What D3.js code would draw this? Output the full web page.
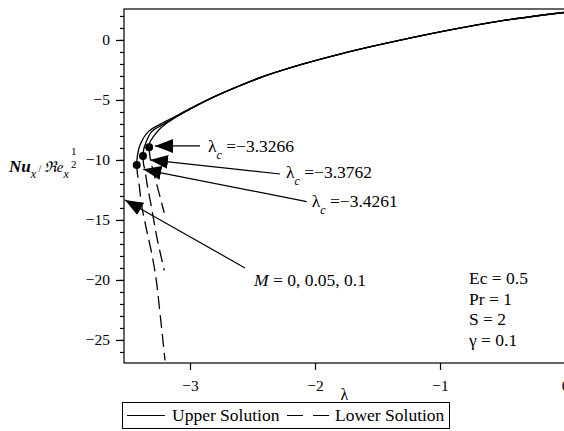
<!DOCTYPE html>
<meta charset="utf-8">
<style>
body { margin: 0; background: #fff; }
svg text { font-family: "Liberation Serif", "Times New Roman", serif; }
.curve { fill: none; stroke: #000; stroke-width: 1.3; }
.lower { stroke-dasharray: 13,6; }
</style>
<body>
<script src="https://cdn.jsdelivr.net/npm/d3@7"></script>
<script>

// x = lambda, y = Nu_x / Re_x^(1/2)
var xTicks = [-3, -2, -1, 0];
var yTicks = [-25, -20, -15, -10, -5, 0];

// shared tail of the upper branches
var upperTail = [[-2.8, -4.7], [-2.6, -3.8], [-2.4, -3.0], [-2.1, -2.02], [-1.8, -1.18],
                 [-1.5, -0.44], [-1.0, 0.67], [-0.5, 1.61], [0, 2.3]];

// upper solution, one per critical lambda
var upper1 = [[-3.3266, -8.94], [-3.32, -8.5], [-3.293, -8.06], [-3.25, -7.5],
              [-3.2, -7.05], [-3.1, -6.36], [-3.0, -5.76]];
var upper2 = [[-3.3762, -9.67], [-3.37, -9.1], [-3.36, -8.75], [-3.307, -7.64],
              [-3.2, -6.95], [-3.1, -6.32], [-3.0, -5.74]];
var upper3 = [[-3.4261, -10.42], [-3.42, -9.6], [-3.40, -8.75], [-3.333, -7.64],
              [-3.22, -6.92], [-3.1, -6.28], [-3.0, -5.72]];

// lower solution
var lower1 = [[-3.3266, -8.94], [-3.322, -9.6], [-3.31, -10.3], [-3.294, -10.9],
              [-3.262, -12.2], [-3.206, -14.4]];
var lower2 = [[-3.3762, -9.67], [-3.372, -10.3], [-3.36, -10.9], [-3.34, -12.2],
              [-3.314, -13.6], [-3.266, -16.4], [-3.206, -19.2]];
var lower3 = [[-3.4261, -10.42], [-3.42, -11.2], [-3.405, -12.2], [-3.39, -13.6],
              [-3.35, -15.7], [-3.306, -17.8], [-3.27, -20.0], [-3.245, -22.3],
              [-3.222, -24.5], [-3.2, -26.7]];

// critical points
var critLambda = [-3.3266, -3.3762, -3.4261];
var critNu = [-8.94, -9.67, -10.42];
var critLabels = ["\u22123.3266", "\u22123.3762", "\u22123.4261"];

// arrow tips / tails and label anchors (data units)
var arrowTips = [[-3.28, -8.83], [-3.32, -10.0], [-3.374, -10.78], [-3.52, -13.33]];
var arrowTails = [[-2.92, -8.83], [-2.28, -11.17], [-2.066, -13.47], [-2.56, -19.0]];
var labelAt = [[-2.856, -9.33], [-2.232, -11.5], [-2.026, -13.89], [-2.488, -20.47]];

var params = ["Ec = 0.5", "Pr = 1", "S = 2", "\u03b3 = 0.1"];

var width = 564, height = 431;
var x = d3.scaleLinear().domain([-3.528, 0]).range([124, 565]);
var y = d3.scaleLinear().domain([-26.92, 2.58]).range([363, 9]);

var svg = d3.select("body").append("svg")
    .attr("width", width)
    .attr("height", height);

svg.append("defs").append("marker")
    .attr("id", "head")
    .attr("markerUnits", "userSpaceOnUse")
    .attr("viewBox", "0 -8 18 16")
    .attr("refX", 18).attr("refY", 0)
    .attr("markerWidth", 18).attr("markerHeight", 16)
    .attr("orient", "auto")
    .append("path").attr("d", "M0,-7L18,0L0,7Z").attr("fill", "#000");

// frame
svg.append("rect")
    .attr("x", x(-3.528)).attr("y", y(2.58))
    .attr("width", x(0) - x(-3.528) + 2).attr("height", y(-26.92) - y(2.58))
    .attr("fill", "none").attr("stroke", "#000").attr("stroke-width", 1.2);

function fmt(d) { return d < 0 ? "\u2212" + Math.abs(d) : d; }

// y axis with minor ticks
svg.append("g")
    .attr("transform", "translate(" + x(-3.528) + ",0)")
    .call(d3.axisLeft(y).tickValues(d3.range(-26, 3)).tickSize(4).tickFormat(""))
    .call(function (g) { g.select(".domain").remove(); });
svg.append("g")
    .attr("transform", "translate(" + x(-3.528) + ",0)")
    .call(d3.axisLeft(y).tickValues(yTicks).tickSize(8).tickPadding(6).tickFormat(fmt))
    .call(function (g) { g.select(".domain").remove(); });

// x axis
svg.append("g")
    .attr("transform", "translate(0," + y(-26.92) + ")")
    .call(d3.axisBottom(x).tickValues(xTicks).tickSize(7).tickPadding(10).tickFormat(fmt))
    .call(function (g) { g.select(".domain").remove(); });

svg.selectAll(".tick line").attr("stroke-width", 1.2);
svg.selectAll(".tick text")
    .attr("font-family", "Liberation Serif")
    .attr("font-size", "15.5px")
    .attr("fill", "#000");

// curves
var line = d3.line()
    .x(function (d) { return x(d[0]); })
    .y(function (d) { return y(d[1]); })
    .curve(d3.curveCatmullRom.alpha(0.5));

[upper1, upper2, upper3].forEach(function (u) {
    svg.append("path").attr("class", "curve").attr("d", line(u.concat(upperTail)));
});
[lower1, lower2, lower3].forEach(function (l) {
    svg.append("path").attr("class", "curve lower").attr("d", line(l));
});

svg.selectAll(".crit")
    .data(critLambda)
    .enter().append("circle")
    .attr("cx", function (d) { return x(d); })
    .attr("cy", function (d, i) { return y(critNu[i]); })
    .attr("r", 4)
    .attr("fill", "#000");

// arrows
arrowTips.forEach(function (t, i) {
    svg.append("line")
        .attr("x1", x(arrowTails[i][0])).attr("y1", y(arrowTails[i][1]))
        .attr("x2", x(t[0])).attr("y2", y(t[1]))
        .attr("stroke", "#000").attr("stroke-width", 1.2)
        .attr("marker-end", "url(#head)");
});

critLabels.forEach(function (s, i) {
    var t = svg.append("text")
        .attr("x", x(labelAt[i][0])).attr("y", y(labelAt[i][1]))
        .attr("font-size", "17.5px");
    t.append("tspan").text("\u03bb");
    t.append("tspan").attr("dy", 7).attr("font-size", "12px")
        .attr("font-style", "italic").text("c");
    t.append("tspan").attr("dy", -7).text(" =" + s);
});

var m = svg.append("text")
    .attr("x", x(labelAt[3][0])).attr("y", y(labelAt[3][1]))
    .attr("font-size", "17.5px");
m.append("tspan").attr("font-style", "italic").text("M");
m.append("tspan").text(" = 0, 0.05, 0.1");

svg.selectAll(".param")
    .data(params)
    .enter().append("text")
    .attr("x", x(-0.768))
    .attr("y", function (d, i) { return y(-20.33) + i * 20.7; })
    .attr("font-size", "17.5px")
    .text(function (d) { return d; });

// axis titles
svg.append("text")
    .attr("x", (x(-3.528) + x(0)) / 2).attr("y", 400)
    .attr("text-anchor", "middle")
    .attr("font-size", "16px")
    .text("\u03bb");

var yt = svg.append("text").attr("x", 9).attr("y", 172).attr("font-size", "17px");
yt.append("tspan").attr("font-weight", "bold").attr("font-style", "italic").text("Nu");
yt.append("tspan").attr("dy", 6).attr("font-size", "12px").attr("font-style", "italic").text("x");
yt.append("tspan").attr("dy", -6).attr("font-size", "10px").text(" / ");
yt.append("tspan").attr("font-style", "italic").attr("font-size", "15px").text("\u211ce");
yt.append("tspan").attr("dy", 6).attr("font-size", "12px").attr("font-style", "italic").text("x");
var fx = 9 + yt.node().getComputedTextLength() + 5;
svg.append("text").attr("x", fx).attr("y", 155).attr("font-size", "11px")
    .attr("text-anchor", "middle").text("1");
svg.append("text").attr("x", fx).attr("y", 168).attr("font-size", "11px")
    .attr("text-anchor", "middle").text("2");

// legend
var lg = svg.append("g");
lg.append("rect").attr("x", 122.5).attr("y", 402.5).attr("width", 327).attr("height", 26)
    .attr("fill", "none").attr("stroke", "#000").attr("stroke-width", 1);
lg.append("line").attr("x1", 127).attr("x2", 165).attr("y1", 415.5).attr("y2", 415.5)
    .attr("stroke", "#000").attr("stroke-width", 1.2);
lg.append("text").attr("x", 172).attr("y", 421).attr("font-size", "17.5px").text("Upper Solution");
lg.append("line").attr("x1", 287).attr("x2", 330).attr("y1", 415.5).attr("y2", 415.5)
    .attr("stroke", "#000").attr("stroke-width", 1.2).attr("stroke-dasharray", "16,10");
lg.append("text").attr("x", 335).attr("y", 421).attr("font-size", "17.5px").text("Lower Solution");

</script>
</body>
